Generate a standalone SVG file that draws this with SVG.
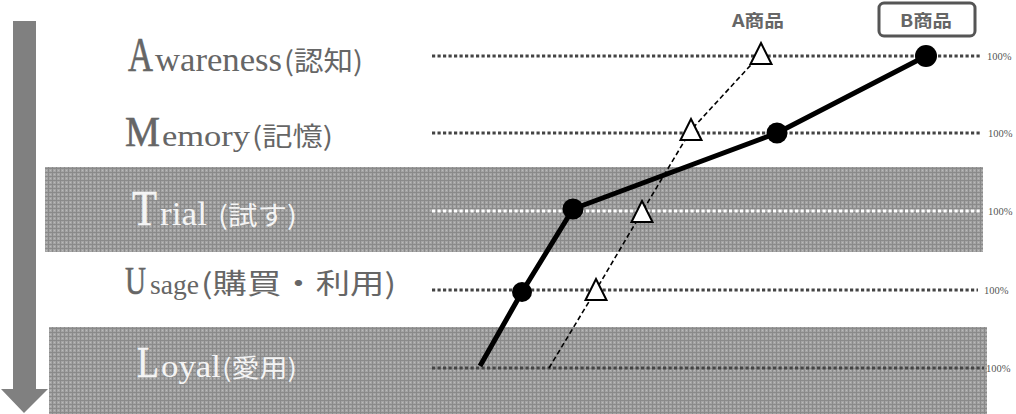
<svg xmlns="http://www.w3.org/2000/svg" width="1016" height="414" viewBox="0 0 1016 414">
<defs>
<pattern id="dots" width="4" height="4" patternUnits="userSpaceOnUse">
<rect width="4" height="4" fill="#a4a4a4"/>
<rect x="0" y="0" width="1" height="4" fill="#8a8a8a"/>
<rect x="0" y="0" width="4" height="1" fill="#8a8a8a"/>
<rect x="2" y="2" width="1" height="1" fill="#bababa"/>
</pattern>
<style>
.band{fill:url(#dots);}
.grid{fill:none;stroke:#444;stroke-width:2.8;stroke-dasharray:3.2 2.3;}
.gridw{fill:none;stroke:#ffffff;stroke-width:2.8;stroke-dasharray:3.2 2.3;}
.pct{font-family:"Liberation Serif",serif;font-size:10.5px;fill:#555;}
.lbl{font-family:"Liberation Serif","Noto Sans CJK JP",serif;fill:#666;}
.lblw{font-family:"Liberation Serif","Noto Sans CJK JP",serif;fill:#f4f4f4;}
.cap{stroke-width:0.6;}
.lbl .cap{stroke:#666;}
.lblw .cap{stroke:#f4f4f4;}
.cjk{font-family:"Noto Sans CJK JP","Liberation Serif",sans-serif;}
.head{font-family:"Noto Sans CJK JP","Liberation Sans",sans-serif;font-weight:bold;font-size:17px;fill:#666;}
.bline{fill:none;stroke:#000;stroke-width:5;stroke-linejoin:round;}
.aline{fill:none;stroke:#000;stroke-width:1.6;stroke-dasharray:5 3;}
.bdot{fill:#000;}
.atri{fill:#fff;stroke:#000;stroke-width:2;stroke-linejoin:miter;}
</style>
</defs>
<rect width="1016" height="414" fill="#fff"/>

<g id="bands">
<rect class="band" x="45" y="167" width="938" height="85"/>
<rect class="band" x="49" y="327" width="938" height="87"/>
</g>

<g id="arrow">
<polygon points="13,21 36,21 36,389 48,389 24,413 1,389 13,389" fill="#808080"/>
</g>

<g id="gridlines">
<line class="grid" x1="432" y1="56" x2="982" y2="56"/>
<line class="grid" x1="432" y1="133" x2="980" y2="133"/>
<line class="gridw" x1="432" y1="211" x2="980" y2="211"/>
<line class="grid" x1="432" y1="290" x2="978" y2="290"/>
<line class="grid" x1="432" y1="368" x2="984" y2="368"/>
<text class="pct" x="987" y="60">100%</text>
<text class="pct" x="988" y="137">100%</text>
<text class="pct" x="988" y="215">100%</text>
<text class="pct" x="984" y="294">100%</text>
<text class="pct" x="986" y="372">100%</text>
</g>

<g id="label-awareness">
<text class="lbl" y="71"><tspan class="cap" x="128" font-size="49" textLength="25" lengthAdjust="spacingAndGlyphs">A</tspan><tspan x="155" font-size="34" textLength="127" lengthAdjust="spacingAndGlyphs">wareness</tspan><tspan class="cjk" x="284" font-size="27" textLength="79" lengthAdjust="spacingAndGlyphs">(認知)</tspan></text>
</g>
<g id="label-memory">
<text class="lbl" y="146"><tspan class="cap" x="125" font-size="42" textLength="35" lengthAdjust="spacingAndGlyphs">M</tspan><tspan x="162" font-size="30" textLength="88" lengthAdjust="spacingAndGlyphs">emory</tspan><tspan class="cjk" x="252" font-size="26" textLength="81" lengthAdjust="spacingAndGlyphs">(記憶)</tspan></text>
</g>
<g id="label-trial">
<text class="lblw" y="225"><tspan class="cap" x="132" font-size="50" textLength="25" lengthAdjust="spacingAndGlyphs">T</tspan><tspan x="160" font-size="34" textLength="47" lengthAdjust="spacingAndGlyphs">rial</tspan><tspan class="cjk" x="218" font-size="26" textLength="79" lengthAdjust="spacingAndGlyphs">(試す)</tspan></text>
</g>
<g id="label-usage">
<text class="lbl" y="294"><tspan class="cap" x="125" font-size="40" textLength="21" lengthAdjust="spacingAndGlyphs">U</tspan><tspan x="150" font-size="27" textLength="49" lengthAdjust="spacingAndGlyphs">sage</tspan><tspan class="cjk" x="201" font-size="28" textLength="195" lengthAdjust="spacingAndGlyphs">(購買・利用)</tspan></text>
</g>
<g id="label-loyal">
<text class="lblw" y="377"><tspan class="cap" x="137" font-size="45" textLength="22" lengthAdjust="spacingAndGlyphs">L</tspan><tspan x="161" font-size="31" textLength="60" lengthAdjust="spacingAndGlyphs">oyal</tspan><tspan class="cjk" x="222" font-size="25" textLength="75" lengthAdjust="spacingAndGlyphs">(愛用)</tspan></text>
</g>

<g id="connectors">
<polyline class="aline" points="549,368 596,290 642,212 691,130 761,54"/>
<polyline class="bline" points="480,366 522,292 573,209 777,133 926,56"/>
</g>

<g id="series-a">
<polygon class="atri" points="596,279 606.5,300 585.5,300"/>
<polygon class="atri" points="642,201 652.5,222 631.5,222"/>
<polygon class="atri" points="691,119 701.5,140 680.5,140"/>
<polygon class="atri" points="761,43 771.5,64 750.5,64"/>
</g>

<g id="series-b">
<circle class="bdot" cx="522" cy="292" r="10"/>
<circle class="bdot" cx="573" cy="209" r="10.5"/>
<circle class="bdot" cx="777" cy="133" r="10.5"/>
<circle class="bdot" cx="926" cy="56" r="11"/>
</g>

<g id="legend-a">
<text class="head" x="758" y="27" text-anchor="middle" textLength="52" lengthAdjust="spacingAndGlyphs">A商品</text>
</g>
<g id="legend-b">
<rect x="879" y="3" width="96" height="33" rx="5" fill="#fff" stroke="#555" stroke-width="3"/>
<text class="head" x="926" y="27" text-anchor="middle" textLength="52" lengthAdjust="spacingAndGlyphs">B商品</text>
</g>
</svg>
